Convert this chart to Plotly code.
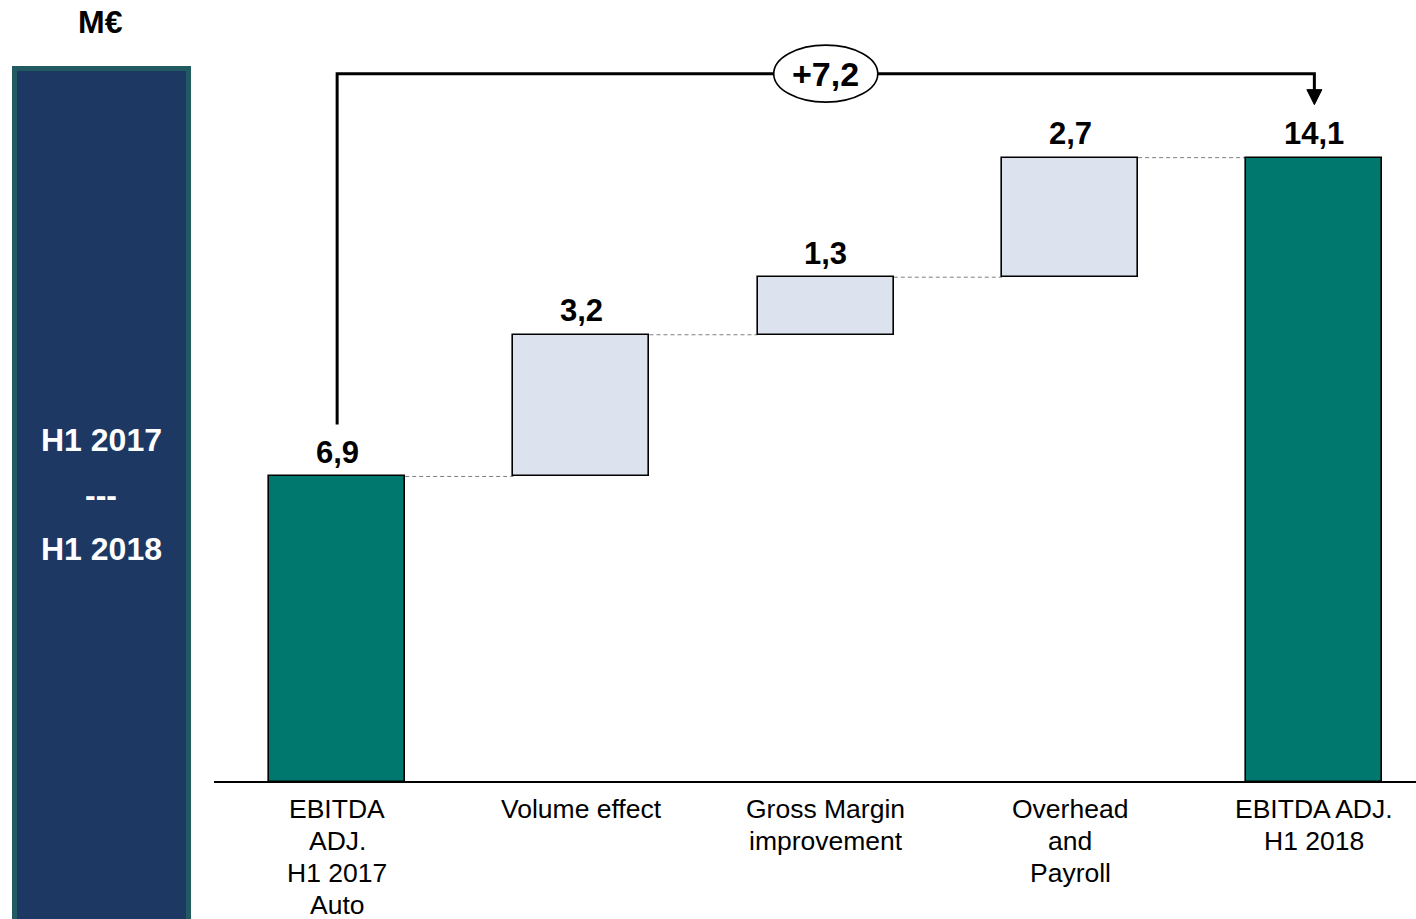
import plotly.graph_objects as go

# ---- data (M€) ----
categories = ["EBITDA<br>ADJ.<br>H1 2017<br>Auto", "Volume effect", "Gross Margin<br>improvement",
              "Overhead<br>and<br>Payroll", "EBITDA ADJ.<br>H1 2018"]
start_value = 6.9
deltas = [3.2, 1.3, 2.7]
end_value = 14.1
value_labels = ["6,9", "3,2", "1,3", "2,7", "14,1"]
change_label = "+7,2"
period_lines = ["H1 2017", "---", "H1 2018"]
unit_label = "M€"

# ---- canvas geometry ----
W, H = 1416, 919
X_DOMAIN = [214 / W, 1.0]
X_RANGE = [-0.504, 4.416]
BASE_PX = 782                      # pixel row of the x-axis baseline
Y_DOMAIN = [(H - BASE_PX) / H, 1.0]
Y_RANGE = [0, 17.66]

PX_PER_X = (X_DOMAIN[1] - X_DOMAIN[0]) * W / (X_RANGE[1] - X_RANGE[0])
PX_PER_Y = BASE_PX / (Y_RANGE[1] - Y_RANGE[0])


def dx(px):
    return px / PX_PER_X


def dy(px):
    return px / PX_PER_Y


TEAL = "#00786e"
LIGHT = "#dce3ee"
NAVY = "#1e3864"
PANEL_EDGE = "#225a62"
FONT = "Liberation Sans, Arial, sans-serif"

xs = list(range(len(categories)))
bar_w = 0.557

# bases / heights for the waterfall
bases = [0.0]
heights = [start_value]
level = start_value
for d in deltas:
    bases.append(level)
    heights.append(d)
    level += d
bases.append(0.0)
heights.append(end_value)
tops = [b + h for b, h in zip(bases, heights)]
colors = [TEAL] + [LIGHT] * len(deltas) + [TEAL]

fig = go.Figure()
fig.add_trace(go.Bar(
    x=xs, y=heights, base=bases, width=bar_w,
    marker=dict(color=colors, line=dict(color="black", width=1.6)),
    hoverinfo="skip", showlegend=False,
))

shapes = []
annotations = []

# dashed connectors between consecutive bars
for i in range(len(xs) - 1):
    lvl = tops[i]
    shapes.append(dict(type="line", xref="x", yref="y",
                       x0=xs[i] + bar_w / 2, x1=xs[i + 1] - bar_w / 2, y0=lvl, y1=lvl,
                       line=dict(color="#7f7f7f", width=1, dash="4px,3px"), layer="below"))

# value labels above each bar
for x, t, lab in zip(xs, tops, value_labels):
    annotations.append(dict(x=x, y=t, xref="x", yref="y", text="<b>%s</b>" % lab,
                            showarrow=False, xanchor="center", yanchor="middle", yshift=24,
                            font=dict(family=FONT, size=31, color="black")))

# bracket showing the overall change
bracket_y = end_value + dy(84)
left_bottom = start_value + dy(52)
arrow_base = end_value + dy(68)
arrow_tip = end_value + dy(53)
shapes.append(dict(type="path", xref="x", yref="y",
                   path="M %f,%f L %f,%f L %f,%f L %f,%f" % (xs[0], left_bottom, xs[0], bracket_y,
                                                            xs[-1], bracket_y, xs[-1], arrow_base),
                   line=dict(color="black", width=3)))
shapes.append(dict(type="path", xref="x", yref="y",
                   path="M %f,%f L %f,%f L %f,%f Z" % (xs[-1] - dx(7.5), arrow_base, xs[-1] + dx(7.5),
                                                      arrow_base, xs[-1], arrow_tip),
                   fillcolor="black", line=dict(color="black", width=1)))
mid_x = (xs[0] + xs[-1]) / 2
shapes.append(dict(type="circle", xref="x", yref="y",
                   x0=mid_x - dx(52), x1=mid_x + dx(52),
                   y0=bracket_y - dy(28.5), y1=bracket_y + dy(28.5),
                   fillcolor="white", line=dict(color="black", width=1.6)))
annotations.append(dict(x=mid_x, y=bracket_y, xref="x", yref="y", text="<b>%s</b>" % change_label,
                        showarrow=False, xanchor="center", yanchor="middle",
                        font=dict(family=FONT, size=34, color="black")))

# category labels below the axis, one line at a time
for x, cat in zip(xs, categories):
    for j, line in enumerate(cat.split("<br>")):
        ypx = BASE_PX + 27 + 32 * j
        annotations.append(dict(x=x, y=1 - ypx / H, xref="x", yref="paper", text=line,
                                showarrow=False, xanchor="center", yanchor="middle",
                                font=dict(family=FONT, size=26.5, color="black")))

# left period panel
shapes.append(dict(type="rect", xref="paper", yref="paper",
                   x0=14.5 / W, x1=188.5 / W, y0=1 - 930 / H, y1=1 - 68.5 / H,
                   fillcolor=NAVY, line=dict(color=PANEL_EDGE, width=5)))
for ypx, txt in zip([440, 495, 549], period_lines):
    annotations.append(dict(x=101 / W, y=1 - ypx / H, xref="paper", yref="paper",
                            text="<b>%s</b>" % txt, showarrow=False,
                            xanchor="center", yanchor="middle",
                            font=dict(family=FONT, size=32, color="white")))
annotations.append(dict(x=100 / W, y=1 - 22 / H, xref="paper", yref="paper",
                        text="<b>%s</b>" % unit_label, showarrow=False,
                        xanchor="center", yanchor="middle",
                        font=dict(family=FONT, size=32, color="black")))

fig.update_layout(
    width=W, height=H,
    margin=dict(l=0, r=0, t=0, b=0),
    paper_bgcolor="white", plot_bgcolor="white",
    bargap=0,
    shapes=shapes, annotations=annotations,
    xaxis=dict(domain=X_DOMAIN, range=X_RANGE, showgrid=False, zeroline=False,
               showticklabels=False, ticks="", showline=False, fixedrange=True),
    yaxis=dict(domain=Y_DOMAIN, range=Y_RANGE, showgrid=False, zeroline=True,
               zerolinecolor="black", zerolinewidth=2, showticklabels=False, ticks="",
               showline=False, fixedrange=True),
)

fig.write_html("out.html", config={"displayModeBar": False})
